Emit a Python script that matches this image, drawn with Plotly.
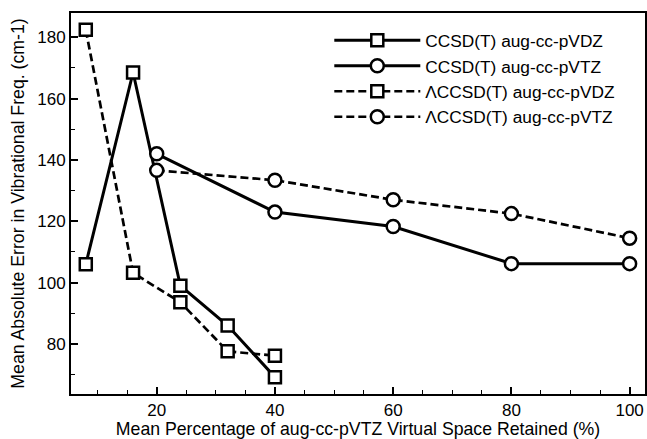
import plotly.graph_objects as go

# Data
x_dz = [8, 16, 24, 32, 40]
ccsd_dz = [106, 168.5, 99, 86, 69.2]
lccsd_dz = [182.4, 103.2, 93.6, 77.6, 76.2]
x_tz = [20, 40, 60, 80, 100]
ccsd_tz = [142, 123, 118.3, 106.2, 106.2]
lccsd_tz = [136.6, 133.4, 127, 122.5, 114.5]

names = ["CCSD(T) aug-cc-pVDZ", "CCSD(T) aug-cc-pVTZ",
         "\u039bCCSD(T) aug-cc-pVDZ", "\u039bCCSD(T) aug-cc-pVTZ"]

FONT = "Liberation Sans, Arial, Helvetica, sans-serif"

fig = go.Figure()

def add(x, y, name, symbol, dash, width, msize):
    fig.add_trace(go.Scatter(
        x=x, y=y, name=name, mode="lines+markers",
        line=dict(color="black", width=width, dash=dash),
        marker=dict(symbol=symbol, size=msize, color="white",
                    line=dict(color="black", width=2.5)),
        cliponaxis=False,
    ))

add(x_dz, ccsd_dz, names[0], "square", "solid", 3, 12)
add(x_tz, ccsd_tz, names[1], "circle", "solid", 3, 13)
add(x_dz, lccsd_dz, names[2], "square", "8px,4px", 2.7, 12)
add(x_tz, lccsd_tz, names[3], "circle", "8px,4px", 2.7, 13)

axis_common = dict(
    showline=True, linecolor="black", linewidth=2, mirror=True,
    ticks="inside", ticklen=7, tickwidth=1.5, tickcolor="black",
    showgrid=False, zeroline=False,
    tickfont=dict(family=FONT, size=17, color="black"),
    title_font=dict(family=FONT, size=17.7, color="black"),
)

fig.update_xaxes(
    range=[5.5, 102.6], tickvals=[20, 40, 60, 80, 100],
    minor=dict(dtick=5, tick0=0, ticks="inside", ticklen=4, tickcolor="black", tickwidth=1.2),
    title_text="Mean Percentage of aug-cc-pVTZ Virtual Space Retained (%)",
    title_standoff=1,
    **axis_common,
)
fig.update_yaxes(
    range=[63.7, 187.9], tickvals=[80, 100, 120, 140, 160, 180],
    minor=dict(dtick=10, tick0=0, ticks="inside", ticklen=4, tickcolor="black", tickwidth=1.2),
    title_text="Mean Absolute Error in Vibrational Freq. (cm-1)",
    title_standoff=8,
    **axis_common,
)

fig.update_layout(
    width=647, height=439,
    margin=dict(l=71, r=0, t=13, b=45),
    plot_bgcolor="white", paper_bgcolor="white",
    font=dict(family=FONT, color="black"),
    legend=dict(
        x=0.45, y=0.975, xanchor="left", yanchor="top",
        font=dict(family=FONT, size=17.3, color="black"),
        bgcolor="rgba(0,0,0,0)", itemwidth=86, tracegroupgap=0,
    ),
)

fig.write_html("out.html")
